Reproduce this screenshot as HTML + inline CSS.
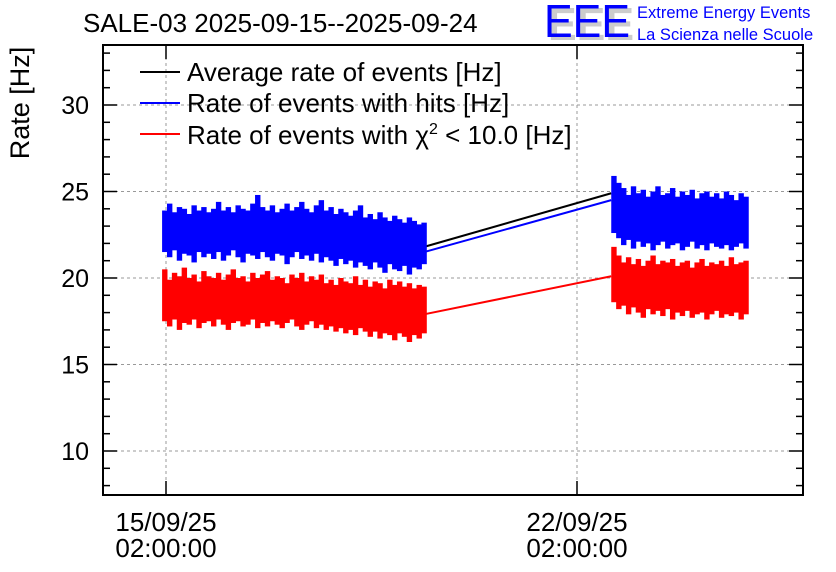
<!DOCTYPE html>
<html><head><meta charset="utf-8"><style>
body{margin:0;background:#fff;}
svg{display:block;font-family:"Liberation Sans",sans-serif;}
</style></head><body>
<svg id="c" width="836" height="572" viewBox="0 0 836 572">
<g id="grid"></g>
<g id="data"></g>
<g id="axes"></g>
<text x="83" y="32" font-size="26">SALE-03 2025-09-15--2025-09-24</text>
<g>
<text x="548" y="40" font-size="46" fill="#ccc" font-weight="bold" textLength="86" lengthAdjust="spacingAndGlyphs">EEE</text>
<text x="544" y="37" font-size="46" fill="#0000ff" textLength="86" lengthAdjust="spacingAndGlyphs">EEE</text>
<text x="637" y="18" font-size="16.5" fill="#0000ff">Extreme Energy Events</text>
<text x="637" y="40" font-size="16.5" fill="#0000ff">La Scienza nelle Scuole</text>
</g>
<text transform="translate(29,103) rotate(-90)" text-anchor="middle" font-size="27">Rate [Hz]</text>
<g>
<g><line x1="140" y1="72" x2="180" y2="72" stroke="#000" stroke-width="2"/><text x="187" y="81" font-size="26">Average rate of events [Hz]</text></g>
<g><line x1="140" y1="103" x2="180" y2="103" stroke="#00f" stroke-width="2"/><text x="187" y="112" font-size="26">Rate of events with hits [Hz]</text></g>
<g><line x1="140" y1="134" x2="180" y2="134" stroke="#f00" stroke-width="2"/><text x="187" y="144" font-size="26">Rate of events with χ<tspan font-size="16" dy="-10">2</tspan><tspan dy="10"> &lt; 10.0 [Hz]</tspan></text></g>
</g>
</svg>
<script>
const yTicks=[10,15,20,25,30];
const xTickHours=[0,168];
const xTickLabels=[["15/09/25","02:00:00"],["22/09/25","02:00:00"]];
const seg1Start=-1.6, seg2Start=182, binHours=2;
const blueHi1=[23.9,24.3,23.8,24.1,24.0,23.7,24.2,23.9,24.1,23.8,24.0,24.4,23.9,24.1,23.8,24.2,24.0,23.9,24.3,24.8,24.1,23.9,24.2,23.8,24.0,24.3,23.9,24.1,24.4,24.0,23.8,24.2,24.5,23.9,24.1,23.7,24.0,23.8,23.6,23.9,24.2,23.5,23.7,23.4,23.8,23.5,23.3,23.6,23.4,23.2,23.5,23.3,23.1,23.2];
const blueLo1=[21.5,21.2,21.6,21.0,21.4,21.3,20.9,21.5,21.2,21.4,21.1,21.5,21.0,21.3,21.6,21.2,20.9,21.4,21.3,21.1,21.5,21.2,21.0,21.4,21.3,20.8,21.2,21.5,21.1,21.3,21.0,21.4,20.9,21.2,21.0,20.7,21.1,20.8,21.0,20.6,20.9,20.7,20.5,20.9,20.6,20.3,20.8,20.5,20.4,20.7,20.2,20.6,20.5,20.8];
const redHi1=[20.5,19.9,20.3,20.1,20.6,20.0,20.2,19.8,20.4,20.1,20.0,20.3,19.9,20.2,20.5,20.0,20.1,19.8,20.3,20.0,20.2,20.4,19.9,20.1,20.0,19.7,20.2,20.0,20.3,19.8,20.1,19.9,20.2,19.7,19.9,19.6,20.0,19.8,19.7,20.1,19.6,19.9,19.5,19.8,19.7,19.4,19.9,19.6,19.8,19.5,19.7,19.4,19.6,19.5];
const redLo1=[17.5,17.2,17.6,17.0,17.4,17.3,17.6,17.1,17.4,17.5,17.2,17.6,17.3,17.0,17.4,17.5,17.2,17.3,17.6,17.1,17.4,17.2,17.5,17.3,17.1,17.4,17.6,17.2,17.0,17.3,17.5,17.1,17.3,17.0,17.2,16.9,17.1,16.8,17.0,16.7,17.1,16.9,16.6,16.9,16.5,16.8,16.7,16.4,16.8,16.6,16.3,16.7,16.5,16.8];
const blueHi2=[25.9,25.5,25.2,24.8,25.3,24.9,25.1,24.7,25.0,25.3,24.8,24.9,25.2,24.7,25.0,24.8,25.1,24.6,24.9,25.0,24.7,24.9,24.6,25.0,24.8,24.5,24.9,24.7];
const blueLo2=[22.6,22.3,21.9,22.2,21.7,22.1,21.8,22.0,21.6,21.9,22.1,21.7,21.9,22.0,21.6,21.8,22.1,21.7,21.9,21.6,22.0,21.8,21.7,21.9,21.6,21.8,22.0,21.7];
const redHi2=[21.8,21.3,20.9,21.2,20.8,21.1,20.7,21.0,21.3,20.8,21.0,20.9,21.1,20.7,20.9,21.0,20.6,20.9,21.1,20.7,20.9,20.8,21.0,20.7,21.2,20.8,20.9,21.0];
const redLo2=[18.6,18.2,18.4,17.9,18.3,18.0,17.7,18.2,17.9,18.1,17.8,18.2,17.6,18.0,17.8,18.1,17.7,17.9,18.0,17.6,17.9,18.1,17.7,17.9,17.8,18.0,17.6,17.9];
const gapHours=[105.5,182];
const blackGap=[21.8,24.9];
const blueGap=[21.5,24.5];
const redGap=[17.9,20.1];

const L=103,R=803,T=45,B=495;
const X=h=>166+h*411/168;
const Y=v=>451-(v-10)*17.3;
const NS="http://www.w3.org/2000/svg";
function mk(tag,attrs,parent){const e=document.createElementNS(NS,tag);for(const k in attrs)e.setAttribute(k,attrs[k]);parent.appendChild(e);return e;}
const grid=document.getElementById('grid'),data=document.getElementById('data'),axes=document.getElementById('axes');

yTicks.forEach(v=>{const l=mk('line',{x1:L,x2:R,y1:Y(v),y2:Y(v),stroke:'#999','stroke-dasharray':'3,3'},grid);

});
xTickHours.forEach(h=>{const l=mk('line',{x1:X(h),x2:X(h),y1:T,y2:B,stroke:'#999','stroke-dasharray':'3,3'},grid);

});

function band(hi,lo,start,color,name){
  const g=mk('g',{fill:color},data);
  
  
  hi.forEach((v,i)=>{
    const x0=X(start+i*binHours),x1=X(start+(i+1)*binHours);
    const r=mk('rect',{x:x0,y:Y(v),width:x1-x0+0.5,height:Y(lo[i])-Y(v)},g);
    
    
  });
}
function gap(vals,color,name){
  const l=mk('line',{x1:X(gapHours[0]),y1:Y(vals[0]),x2:X(gapHours[1]),y2:Y(vals[1]),stroke:color,'stroke-width':2},data);
  
  
}
gap(blackGap,'#000','average-gap-line');
band(blueHi1,blueLo1,seg1Start,'#0000ff','hits-band-1');
band(blueHi2,blueLo2,seg2Start,'#0000ff','hits-band-2');
gap(blueGap,'#0000ff','hits-gap-line');
band(redHi1,redLo1,seg1Start,'#ff0000','chi2-band-1');
band(redHi2,redLo2,seg2Start,'#ff0000','chi2-band-2');
gap(redGap,'#ff0000','chi2-gap-line');

const fr=mk('rect',{x:L,y:T,width:R-L,height:B-T,fill:'none',stroke:'#000','stroke-width':2},axes);


for(let v=8;v<=33;v++){
  const len=v%5===0?14:7;
  mk('line',{x1:L,x2:L+len,y1:Y(v),y2:Y(v),stroke:'#000','stroke-width':1.5},axes);
  mk('line',{x1:R-len,x2:R,y1:Y(v),y2:Y(v),stroke:'#000','stroke-width':1.5},axes);
}
yTicks.forEach(v=>{const t=mk('text',{x:L-14,y:Y(v)+9,'text-anchor':'end','font-size':25},axes);t.textContent=v;

});
xTickHours.forEach((h,i)=>{
  mk('line',{x1:X(h),x2:X(h),y1:B-14,y2:B,stroke:'#000','stroke-width':1.5},axes);
  mk('line',{x1:X(h),x2:X(h),y1:T,y2:T+14,stroke:'#000','stroke-width':1.5},axes);
  const t=mk('text',{x:X(h),y:531,'text-anchor':'middle','font-size':26},axes);t.textContent=xTickLabels[i][0];
  
  
  const t2=mk('text',{x:X(h),y:557,'text-anchor':'middle','font-size':26},axes);t2.textContent=xTickLabels[i][1];
  
  
});
</script>
</body></html>
